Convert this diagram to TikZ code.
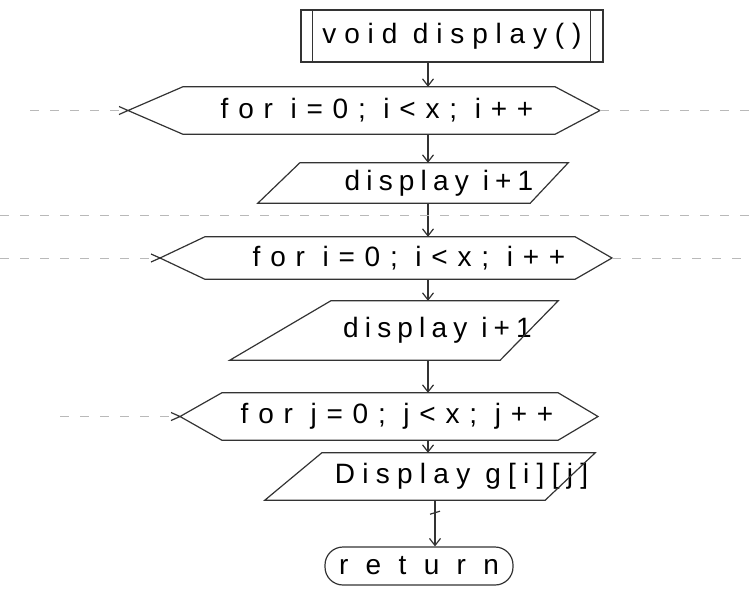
\documentclass[tikz,border=0pt]{standalone}
\usepackage{fontspec}
\setmainfont{Liberation Sans}
\usetikzlibrary{arrows.meta}

\begin{document}
\begin{tikzpicture}[x=1pt, y=-1pt,
  ink/.style={draw=black!80, line width=1.2pt},
  flow/.style={ink, -{Straight Barb[length=7pt,width=11pt]}},
  faint/.style={gray!55, line width=0.7pt, dash pattern=on 9pt off 11pt},
  core/.style={draw=none, inner sep=0pt},
  hand/.style={inner sep=0pt,
    font=\fontsize{28}{32}\selectfont\addfontfeature{LetterSpace=#1}}]

\useasboundingbox (0,0) rectangle (749,590);

% spine of the chart and the two page edges
\coordinate (spine) at (428,0);
\coordinate (spinet) at (435,0);
\coordinate (lip) at (0,0);
\coordinate (rim) at (749,0);

% header, double bars at the sides
\node[core, ink, minimum width=302, minimum height=52, hand=28] (head) at (452,36) {void display()};
\draw[ink] ([xshift=12]head.north west) -- ([xshift=12]head.south west);
\draw[ink] ([xshift=-13]head.north east) -- ([xshift=-13]head.south east);

% loops: name / left x / right x / top y / bottom y / left tip / right tip / text shift / label
\foreach \n/\xl/\xr/\yt/\yb/\tl/\tr/\dx/\lbl in {
  loopa/183/555/87/134/128/600/8/{for i=0; i<x; i++},
  loopb/205/575/237/279/160/612/19/{for i=0; i<x; i++},
  loopc/222/558/393/440/180/598/7/{for j=0; j<x; j++}}
{
  \node[core, minimum width=\xr-\xl, minimum height=\yb-\yt,
    label={[hand=35, xshift=\dx]center:\lbl}] (\n)
    at ({(\xl+\xr)/2}, {(\yt+\yb)/2}) {};
  \coordinate (\n-w) at (\tl, {(\yt+\yb)/2});
  \coordinate (\n-e) at (\tr, {(\yt+\yb)/2});
  \draw[ink] (\n.north west) -- (\n.north east) -- (\n-e)
    -- (\n.south east) -- (\n.south west) -- (\n-w) -- cycle;
  % overshoot at the left tip
  \draw[ink] (\n-w) -- ++(-9,4) (\n-w) -- ++(-9,-4);
}

% outputs: name / left x / right x / top y / bottom y / right overhang / left overhang / spacing / text shift / label
\foreach \n/\xl/\xr/\yt/\yb/\ro/\lo/\sp/\dx/\lbl in {
  outa/300/530/163/203/38/42/22/24/{display i+1},
  outb/331/500/301/360/58/101/22/22/{display i+1},
  outc/322/545/453/500/50/57/26/28/{Display g[i][j]}}
{
  \node[core, minimum width=\xr-\xl, minimum height=\yb-\yt,
    label={[hand=\sp, xshift=\dx]center:\lbl}] (\n)
    at ({(\xl+\xr)/2}, {(\yt+\yb)/2}) {};
  \draw[ink] (\n.north west) -- ([xshift=\ro]\n.north east)
    -- (\n.south east) -- ([xshift=-\lo]\n.south west) -- cycle;
}

% terminal
\node[core, ink, rounded corners=18pt, minimum width=188, minimum height=38, hand=62] (stop) at (419,566) {return};

% flow
\foreach \a/\b in {head/loopa, loopa/outa, outa/loopb, loopb/outb, outb/loopc, loopc/outc}
  \draw[flow] (\a.south -| spine) -- (\b.north -| spine);
\draw[flow] (outc.south -| spinet) -- (stop.north -| spinet);
\draw[ink] ([shift={(-5,14)}]outc.south -| spinet) -- ++(10,-3);

% faint dashed lines
\coordinate (lipa) at (30,0);
\coordinate (lipc) at (60,0);
\coordinate (seam) at (0,215);
\draw[faint] (loopa-w -| lipa) -- (loopa-w);
\draw[faint] (loopa-e) -- (loopa-e -| rim);
\draw[faint] (seam) -- (seam -| rim);
\draw[faint] (loopb-w -| lip) -- (loopb-w);
\draw[faint] (loopb-e) -- (loopb-e -| rim);
\draw[faint] (loopc-w -| lipc) -- (loopc-w);

\end{tikzpicture}
\end{document}
